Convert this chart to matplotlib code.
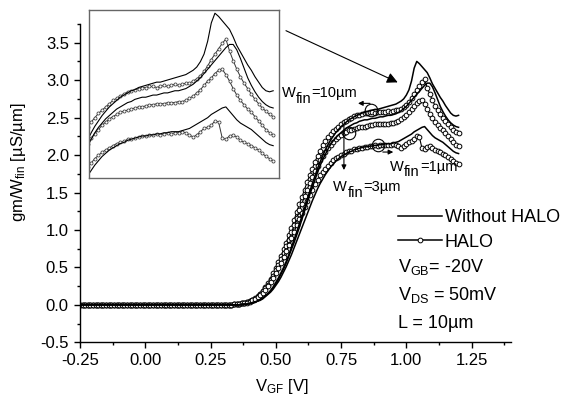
import numpy as np
import matplotlib
matplotlib.use("Agg")
import matplotlib.pyplot as plt
from matplotlib.lines import Line2D
from matplotlib.ticker import MultipleLocator, FormatStrFormatter
from matplotlib.transforms import offset_copy

plt.rcParams['font.family'] = 'Liberation Sans'
plt.rcParams['mathtext.fontset'] = 'custom'
plt.rcParams['mathtext.rm'] = 'Liberation Sans'
plt.rcParams['mathtext.it'] = 'Liberation Sans:italic'
plt.rcParams['mathtext.bf'] = 'Liberation Sans:bold'

# ---- data: gm/Wfin vs VGF, 10 mV steps ----
vgf = np.round(np.arange(-0.25, 1.205, 0.01), 2)
OFF = [0.0] * 55   # -0.25 .. 0.29 V, device off

# from 0.30 V to 1.20 V
w10_nohalo = OFF + [
    0.00, 0.00, 0.00, 0.00, 0.00, 0.00, 0.00, 0.01, 0.01, 0.01,
    0.02, 0.03, 0.04, 0.05, 0.07, 0.09, 0.12, 0.15, 0.19, 0.24,
    0.30, 0.36, 0.43, 0.50, 0.58, 0.67, 0.77, 0.87, 0.97, 1.08,
    1.18, 1.29, 1.40, 1.51, 1.62, 1.72, 1.82, 1.91, 1.99, 2.07,
    2.14, 2.20, 2.25, 2.30, 2.34, 2.38, 2.41, 2.44, 2.47, 2.49,
    2.51, 2.53, 2.54, 2.56, 2.57, 2.58, 2.59, 2.60, 2.61, 2.61,
    2.62, 2.63, 2.64, 2.65, 2.66, 2.67, 2.68, 2.70, 2.72, 2.75,
    2.80, 2.87, 2.99, 3.16, 3.25, 3.22, 3.18, 3.14, 3.10, 3.03,
    2.95, 2.89, 2.83, 2.77, 2.72, 2.66, 2.61, 2.56, 2.53, 2.52,
    2.53]
w10_halo = OFF + [
    0.00, 0.00, 0.00, 0.00, 0.01, 0.01, 0.01, 0.02, 0.03, 0.04,
    0.05, 0.07, 0.09, 0.12, 0.15, 0.19, 0.24, 0.29, 0.35, 0.42,
    0.49, 0.57, 0.65, 0.74, 0.83, 0.93, 1.03, 1.13, 1.24, 1.34,
    1.44, 1.54, 1.64, 1.73, 1.82, 1.91, 1.99, 2.06, 2.13, 2.19,
    2.24, 2.28, 2.32, 2.35, 2.38, 2.41, 2.44, 2.46, 2.48, 2.50,
    2.52, 2.53, 2.54, 2.55, 2.56, 2.56, 2.57, 2.57, 2.56, 2.57,
    2.58, 2.57, 2.58, 2.59, 2.58, 2.59, 2.60, 2.60, 2.62, 2.64,
    2.67, 2.71, 2.76, 2.82, 2.87, 2.92, 2.97, 3.01, 2.90, 2.81,
    2.73, 2.66, 2.60, 2.55, 2.50, 2.45, 2.41, 2.37, 2.34, 2.31,
    2.29]
w3_nohalo = OFF + [
    0.00, 0.00, 0.00, 0.00, 0.00, 0.00, 0.00, 0.01, 0.01, 0.01,
    0.02, 0.03, 0.04, 0.05, 0.07, 0.09, 0.12, 0.15, 0.19, 0.23,
    0.28, 0.34, 0.41, 0.48, 0.56, 0.65, 0.74, 0.83, 0.93, 1.03,
    1.14, 1.25, 1.36, 1.47, 1.57, 1.67, 1.77, 1.86, 1.94, 2.01,
    2.08, 2.14, 2.19, 2.23, 2.27, 2.30, 2.33, 2.36, 2.38, 2.40,
    2.42, 2.43, 2.45, 2.46, 2.47, 2.47, 2.48, 2.49, 2.49, 2.50,
    2.51, 2.51, 2.52, 2.53, 2.53, 2.54, 2.55, 2.57, 2.59, 2.62,
    2.65, 2.69, 2.73, 2.77, 2.81, 2.85, 2.89, 2.93, 2.96, 2.96,
    2.91, 2.83, 2.74, 2.65, 2.58, 2.52, 2.47, 2.43, 2.40, 2.38,
    2.37]
w3_halo = OFF + [
    0.00, 0.00, 0.00, 0.00, 0.01, 0.01, 0.01, 0.02, 0.03, 0.04,
    0.05, 0.06, 0.08, 0.11, 0.14, 0.18, 0.22, 0.27, 0.33, 0.39,
    0.46, 0.53, 0.61, 0.69, 0.78, 0.87, 0.97, 1.06, 1.16, 1.26,
    1.35, 1.45, 1.54, 1.63, 1.71, 1.79, 1.86, 1.93, 1.99, 2.04,
    2.09, 2.13, 2.17, 2.21, 2.24, 2.27, 2.29, 2.31, 2.33, 2.34,
    2.35, 2.36, 2.37, 2.38, 2.38, 2.39, 2.40, 2.40, 2.41, 2.41,
    2.41, 2.42, 2.42, 2.42, 2.43, 2.43, 2.44, 2.46, 2.48, 2.51,
    2.54, 2.58, 2.62, 2.65, 2.69, 2.72, 2.73, 2.68, 2.62, 2.55,
    2.49, 2.44, 2.40, 2.36, 2.33, 2.29, 2.25, 2.21, 2.17, 2.14,
    2.12]
w1_nohalo = OFF + [
    0.00, 0.00, 0.00, 0.00, 0.00, 0.00, 0.00, 0.00, 0.01, 0.01,
    0.02, 0.02, 0.03, 0.05, 0.06, 0.08, 0.11, 0.14, 0.17, 0.21,
    0.26, 0.31, 0.37, 0.44, 0.51, 0.59, 0.67, 0.76, 0.85, 0.94,
    1.03, 1.12, 1.21, 1.30, 1.39, 1.47, 1.55, 1.62, 1.68, 1.74,
    1.79, 1.84, 1.88, 1.92, 1.95, 1.98, 2.00, 2.02, 2.04, 2.05,
    2.07, 2.08, 2.09, 2.10, 2.11, 2.11, 2.12, 2.12, 2.13, 2.13,
    2.14, 2.14, 2.15, 2.15, 2.15, 2.16, 2.17, 2.18, 2.20, 2.22,
    2.24, 2.26, 2.28, 2.31, 2.33, 2.35, 2.37, 2.38, 2.34, 2.30,
    2.26, 2.23, 2.21, 2.19, 2.17, 2.14, 2.11, 2.08, 2.05, 2.03,
    2.02]
w1_halo = OFF + [
    0.00, 0.00, 0.00, 0.00, 0.01, 0.01, 0.01, 0.02, 0.02, 0.03,
    0.04, 0.06, 0.08, 0.10, 0.13, 0.16, 0.20, 0.25, 0.30, 0.36,
    0.42, 0.49, 0.56, 0.64, 0.72, 0.80, 0.89, 0.97, 1.06, 1.14,
    1.23, 1.31, 1.39, 1.47, 1.54, 1.61, 1.67, 1.73, 1.78, 1.82,
    1.86, 1.90, 1.93, 1.96, 1.98, 2.00, 2.02, 2.04, 2.05, 2.06,
    2.08, 2.08, 2.09, 2.10, 2.11, 2.11, 2.12, 2.12, 2.13, 2.12,
    2.13, 2.14, 2.13, 2.14, 2.14, 2.15, 2.14, 2.12, 2.10, 2.12,
    2.15, 2.18, 2.19, 2.21, 2.25, 2.24, 2.09, 2.08, 2.11, 2.12,
    2.10, 2.07, 2.05, 2.04, 2.02, 2.00, 1.98, 1.95, 1.92, 1.90,
    1.88]

no_halo = [w10_nohalo, w3_nohalo, w1_nohalo]
halo = [w10_halo, w3_halo, w1_halo]

fig = plt.figure(figsize=(5.64, 3.99), dpi=100)
ax = fig.add_axes([0.1418, 0.142, 0.7638, 0.798])

for ys in halo:
    ax.plot(vgf, ys, '-o', color='black', lw=0.8, ms=3.4, mfc='white',
            mec='black', mew=0.7, zorder=2)
for ys in no_halo:
    ax.plot(vgf, ys, '-', color='black', lw=1.1, zorder=3)

ax.set_xlim(-0.25, 1.40)
ax.set_ylim(-0.5, 3.75)
ax.xaxis.set_major_locator(MultipleLocator(0.25))
ax.xaxis.set_minor_locator(MultipleLocator(0.125))
ax.yaxis.set_major_locator(MultipleLocator(0.5))
ax.yaxis.set_minor_locator(MultipleLocator(0.25))
ax.xaxis.set_major_formatter(FormatStrFormatter('%.2f'))
ax.yaxis.set_major_formatter(FormatStrFormatter('%.1f'))
ax.tick_params(which='both', direction='out', width=1.0, labelsize=12)
ax.tick_params(which='major', length=4.5)
ax.tick_params(which='minor', length=2.5)
for side in ['top', 'right']:
    ax.spines[side].set_visible(False)
for side in ['left', 'bottom']:
    ax.spines[side].set_linewidth(1.0)

ax.set_xlabel(r'V$_{\mathrm{GF}}$ [V]', fontsize=12)
ax.set_ylabel(r'gm/W$_{\mathrm{fin}}$ [µS/µm]', fontsize=12)
ax.xaxis.set_label_coords(0.469, -0.108)
ax.yaxis.set_label_coords(-0.121, 0.566)

# legend and bias conditions
handles = [Line2D([], [], color='black', lw=1.1),
           Line2D([], [], color='black', lw=1.1, marker='o', ms=3.4,
                  mfc='white', mec='black', mew=0.7)]
ax.legend(handles, ['Without HALO', 'HALO'], loc='upper left',
          bbox_to_anchor=(0.969, 1.275), bbox_transform=ax.transData,
          frameon=False, fontsize=13, borderpad=0, borderaxespad=0,
          handlelength=2.45, handletextpad=0.12, labelspacing=0.40,
          numpoints=1)
ax.text(0.969, 0.44, r'V$_{\mathrm{GB}}$= -20V', fontsize=13, va='baseline')
ax.text(0.969, 0.064, r'V$_{\mathrm{DS}}$ = 50mV', fontsize=13, va='baseline')
ax.text(0.969, -0.314, 'L = 10µm', fontsize=13, va='baseline')

renderer = fig.canvas.get_renderer()


def width_pts(txt):
    return txt.get_window_extent(renderer).width * 72 / fig.dpi


def fin_label(x, y, rest, size=10.5):
    # W with a full-size, lowered "fin" subscript
    t = ax.text(x, y, 'W', fontsize=size, va='baseline')
    dx = width_pts(t) + 0.3
    s = ax.text(x, y, 'fin', fontsize=size, va='baseline',
                transform=offset_copy(ax.transData, fig=fig, x=dx, y=-4,
                                      units='points'))
    dx += width_pts(s) + 0.3
    ax.text(x, y, rest, fontsize=size, va='baseline',
            transform=offset_copy(ax.transData, fig=fig, x=dx, y=0,
                                  units='points'))


fin_label(0.522, 2.77, '=10µm')
fin_label(0.720, 1.52, '=3µm')
fin_label(0.937, 1.79, '=1µm')

# family markers with pointer arrows
ring = dict(marker='o', ms=9, mfc='none', mec='black', mew=0.8, ls='none',
            zorder=4)
ax.plot([0.866], [2.60], **ring)
ax.plot([0.780], [2.30], **ring)
ax.plot([0.892], [2.13], **ring)
small_arrow = dict(arrowstyle='-|>', color='black', lw=0.8,
                   mutation_scale=7, shrinkA=0, shrinkB=0)
ax.annotate('', xy=(0.815, 2.69), xytext=(0.861, 2.69),
            arrowprops=small_arrow)
ax.annotate('', xy=(0.761, 1.80), xytext=(0.761, 2.40),
            arrowprops=small_arrow)
ax.annotate('', xy=(0.950, 2.04), xytext=(0.910, 2.04),
            arrowprops=small_arrow)

# zoomed view of the peak region
axin = fig.add_axes([0.1578, 0.5539, 0.3369, 0.4211])
for ys in halo:
    axin.plot(vgf, ys, '-o', color='#333333', lw=0.7, ms=2.2, mfc='white',
              mec='#444444', mew=0.6)
for ys in no_halo:
    axin.plot(vgf, ys, '-', color='black', lw=0.8)
axin.set_xlim(0.694, 1.216)
axin.set_ylim(1.72, 3.28)
axin.set_xticks([])
axin.set_yticks([])
for sp in axin.spines.values():
    sp.set_color('#666666')
    sp.set_linewidth(1.0)

ax.annotate('', xy=(0.967, 2.97), xytext=(0.539, 3.66),
            arrowprops=dict(arrowstyle='-|>', color='black', lw=0.8,
                            mutation_scale=16, shrinkA=0, shrinkB=0),
            annotation_clip=False)

fig.savefig('out.png', dpi=100)
